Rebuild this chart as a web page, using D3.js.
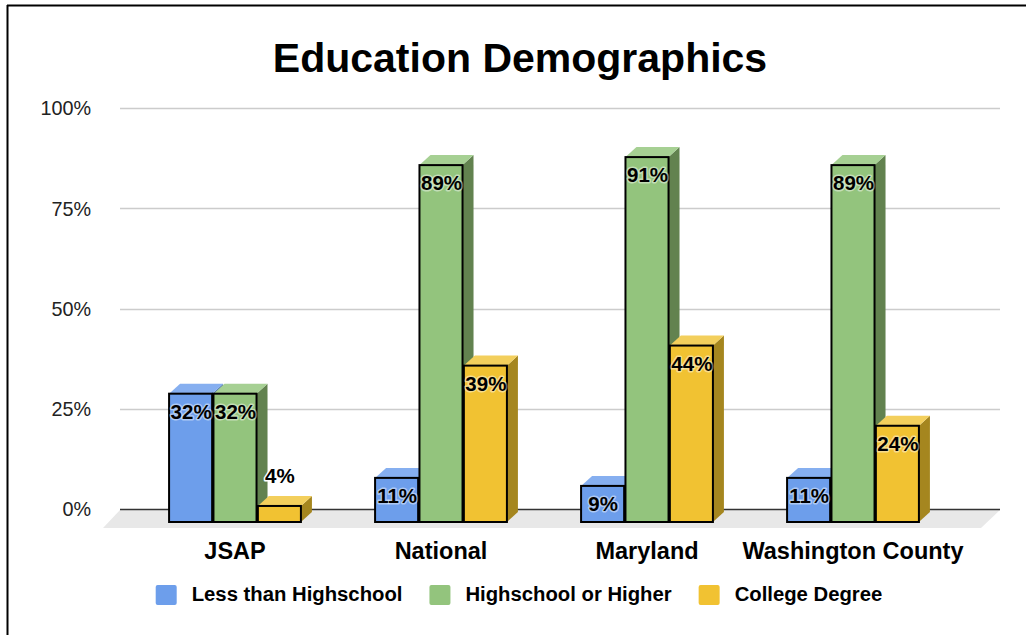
<!DOCTYPE html>
<html>
<head>
<meta charset="utf-8">
<script src="https://cdn.jsdelivr.net/npm/d3@7"></script>
<style>
  html, body { margin: 0; padding: 0; background: #fff; }
  svg { display: block; font-family: "Liberation Sans", Arial, sans-serif; }
</style>
</head>
<body>
<svg id="chart" width="1026" height="635"></svg>
<script>
// ---- data ----
const categories = ["JSAP", "National", "Maryland", "Washington County"];
const seriesNames = ["Less than Highschool", "Highschool or Higher", "College Degree"];
const lessThanHighschool = [32, 11, 9, 11];
const highschoolOrHigher = [32, 89, 91, 89];
const collegeDegree = [4, 39, 44, 24];
const yTicks = [0, 25, 50, 75, 100];
const title = "Education Demographics";

const seriesValues = [lessThanHighschool, highschoolOrHigher, collegeDegree];
const frontColors = ["#6d9eeb", "#93c47d", "#f1c232"];
const topColors = ["#86aff0", "#a6d093", "#f3cf5c"];
const sideColors = ["#4f73ad", "#62824f", "#a5861f"];

const svg = d3.select("#chart");

// frame lines (top and left)
svg.append("line").attr("x1", 7).attr("x2", 1026).attr("y1", 5.5).attr("y2", 5.5)
  .attr("stroke", "#000").attr("stroke-width", 2);
svg.append("line").attr("x1", 7.5).attr("x2", 7.5).attr("y1", 5).attr("y2", 635)
  .attr("stroke", "#000").attr("stroke-width", 2);

// title
svg.append("text").attr("x", 520).attr("y", 72).attr("text-anchor", "middle")
  .attr("font-size", 41).attr("font-weight", "bold").attr("fill", "#000").text(title);

// 3D depth offsets
const DX = 11, DY = -10;

// scales
const yFront = d3.scaleLinear().domain([0, 100]).range([522, 121]);
const yBack = d3.scaleLinear().domain([0, 100]).range([509, 108]);
const x0 = d3.scaleBand().domain(categories).range([132, 956]).paddingInner(0.36).paddingOuter(0.18);
const x1 = d3.scaleBand().domain(seriesNames).range([0, x0.bandwidth()]).paddingInner(0.03);

// floor
const floorPts = [[120, 510], [1000, 510], [981, 528], [103, 528]];
svg.append("path").attr("d", "M" + floorPts.map(p => p.join(",")).join("L") + "Z")
  .attr("fill", "#e8e8e8");

// gridlines + y axis
const yAxis = d3.axisLeft(yBack).tickValues(yTicks).tickFormat(d => d + "%").tickSize(0).tickPadding(0);
const gAxis = svg.append("g").attr("transform", "translate(91,0)").call(yAxis);
gAxis.select(".domain").remove();
gAxis.selectAll("text").attr("font-size", 19.8).attr("fill", "#222")
  .attr("font-family", "'Liberation Sans', Arial, sans-serif").attr("dy", "0.35em");

const gGrid = svg.append("g");
gGrid.selectAll("line").data(yTicks).join("line")
  .attr("x1", 120).attr("x2", 1000)
  .attr("y1", d => Math.round(yBack(d)) + 0.5).attr("y2", d => Math.round(yBack(d)) + 0.5)
  .attr("stroke", d => d === 0 ? "#333" : "#cccccc").attr("stroke-width", 1.5);

// bars
const gBars = svg.append("g");
categories.forEach((cat, ci) => {
  seriesNames.forEach((s, si) => {
    const v = seriesValues[si][ci];
    const xl = x0(cat) + x1(s);
    const xr = xl + x1.bandwidth();
    const yt = yFront(v);
    const yb = yFront(0);
    const g = gBars.append("g");
    g.append("path")
      .attr("d", `M${xr},${yt}L${xr + DX},${yt + DY}L${xr + DX},${yb + DY}L${xr},${yb}Z`)
      .attr("fill", sideColors[si]);
    g.append("path")
      .attr("d", `M${xl},${yt}L${xr},${yt}L${xr + DX},${yt + DY}L${xl + DX},${yt + DY}Z`)
      .attr("fill", topColors[si]);
    g.append("rect").attr("x", xl).attr("y", yt).attr("width", xr - xl).attr("height", yb - yt)
      .attr("fill", frontColors[si]).attr("stroke", "#000").attr("stroke-width", 2);
  });
});

// value labels
const gLabels = svg.append("g");
categories.forEach((cat, ci) => {
  seriesNames.forEach((s, si) => {
    const v = seriesValues[si][ci];
    const xc = x0(cat) + x1(s) + x1.bandwidth() / 2;
    const yt = yFront(v);
    const h = yFront(0) - yt;
    const inside = h > 30;
    gLabels.append("text")
      .attr("x", xc + 0.5)
      .attr("y", inside ? yt + 25 : yt - 23)
      .attr("text-anchor", "middle")
      .attr("font-size", 20.5).attr("font-weight", "bold").attr("fill", "#000")
      .attr("stroke", "#fff").attr("stroke-width", 3).attr("stroke-opacity", inside ? 0.45 : 1)
      .attr("paint-order", "stroke").attr("stroke-linejoin", "round")
      .text(v + "%");
  });
});

// category labels
const xAxis = d3.axisBottom(x0).tickSize(0).tickPadding(0);
const gX = svg.append("g").attr("transform", "translate(0,559)").call(xAxis);
gX.select(".domain").remove();
gX.selectAll("text").attr("font-size", 23.5).attr("font-weight", "bold").attr("fill", "#000")
  .attr("font-family", "'Liberation Sans', Arial, sans-serif").attr("dy", 0);

// legend
const gLeg = svg.append("g");
const items = seriesNames.map((s, i) => {
  const g = gLeg.append("g");
  g.append("rect").attr("x", 0).attr("y", 585).attr("width", 21).attr("height", 20).attr("rx", 2)
    .attr("fill", frontColors[i]);
  const t = g.append("text").attr("x", 36).attr("y", 601).attr("font-size", 20.3)
    .attr("font-weight", "bold").attr("fill", "#000").text(s);
  return { g, w: 36 + t.node().getComputedTextLength() };
});
const gap = 27;
const total = d3.sum(items, d => d.w) + gap * (items.length - 1);
let cx = 519 - total / 2;
items.forEach(it => { it.g.attr("transform", `translate(${cx},0)`); cx += it.w + gap; });
</script>
</body>
</html>
